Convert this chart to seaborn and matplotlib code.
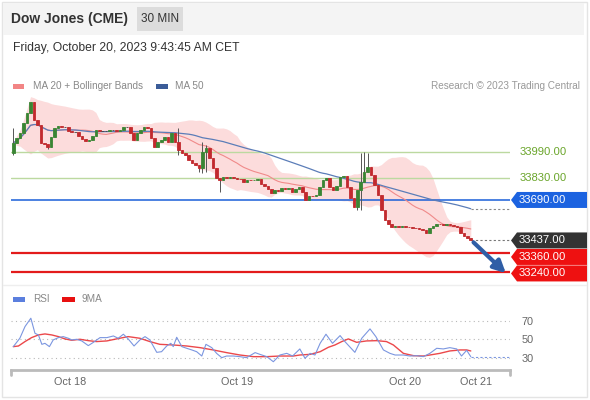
import numpy as np
import pandas as pd
import matplotlib
matplotlib.use("Agg")
import matplotlib.pyplot as plt
from matplotlib.patches import Rectangle, Polygon
from matplotlib.lines import Line2D
import seaborn as sns

# Dow Jones (CME) futures, 30 minute bars, Oct 17 - Oct 20 2023
first_open = 33984
closes = [
    34046, 34077, 34109, 34171, 34234, 34302, 34190, 34159, 34046, 34040,
    34021, 34084, 34140, 34152, 34146, 34146, 34121, 34115, 34115, 34090,
    34071, 34059, 34065, 34090, 34127, 34121, 34121, 34121, 34127, 34127,
    34121, 34127, 34146, 34146, 34109, 34065, 34109, 34127, 34146, 34140,
    34077, 34021, 34052, 34065, 34084, 34052, 34109, 34052, 34002, 33984,
    33971, 33940, 33921, 33909, 33890, 33990, 34015, 33952, 33890, 33827,
    33815, 33834, 33827, 33834, 33827, 33824, 33821, 33802, 33815, 33812,
    33815, 33821, 33790, 33777, 33759, 33734, 33752, 33749, 33765, 33759,
    33762, 33740, 33759, 33771, 33740, 33690, 33715, 33712, 33721, 33771,
    33815, 33827, 33771, 33752, 33777, 33834, 33840, 33771, 33702, 33646,
    33752, 33802, 33865, 33896, 33846, 33784, 33721, 33627, 33565, 33540,
    33521, 33527, 33521, 33527, 33521, 33518, 33515, 33512, 33509, 33502,
    33484, 33515, 33527, 33540, 33537, 33534, 33540, 33534, 33527, 33521,
    33484, 33465, 33452, 33437,
]
# bars with visible shadows
wick_idx = [0, 10, 48, 54, 55, 56, 60, 100, 101, 102, 103]
wick_high = [34140, 34040, 34140, 33909, 34052, 34034, 33827, 33752, 33984, 33990, 33984]
wick_low = [33971, 34009, 33971, 33865, 33859, 33865, 33740, 33627, 33627, 33802, 33865]

res_levels = [33990, 33830]
pivot_level = 33690
sup_levels = [33360, 33240]

rsi_idx = [0, 1.9, 3.4, 5.1, 6.3, 7.3, 8.3, 9.2, 10.5, 11.6,
           13.1, 14.5, 16.0, 17.0, 18.4, 19.9, 21.8, 23.3, 25.2, 27.2,
           29.1, 30.5, 32.0, 33.4, 35.1, 36.8, 38.3, 39.7, 41.7, 43.1,
           44.6, 45.8, 46.5, 47.5, 49.0, 50.4, 51.9, 53.3, 54.8, 56.0,
           57.7, 59.1, 60.6, 62.0, 64.0, 65.9, 67.8, 70.3, 71.7, 73.7,
           75.6, 77.5, 79.5, 81.2, 83.3, 84.8, 86.3, 87.7, 89.2, 90.9,
           92.8, 95.0, 96.4, 99.3, 101.3, 103.7, 105.4, 107.6, 109.5, 111.0,
           113.4, 115.3, 117.3, 119.2, 121.1, 123.1, 125.0, 126.9, 128.9, 130.3,
           131.8, 133.0]
rsi_val = [42.0, 51.1, 63.8, 72.9, 56.5, 54.7, 44.5, 45.6, 42.0, 49.3,
           51.8, 52.9, 51.1, 49.3, 50.0, 48.2, 43.1, 46.7, 51.8, 51.8,
           53.6, 51.1, 55.5, 50.4, 42.7, 49.3, 52.9, 49.3, 35.8, 36.5,
           42.7, 45.6, 42.0, 52.2, 42.0, 40.2, 38.4, 36.5, 31.8, 44.5,
           40.9, 34.7, 30.0, 31.8, 31.8, 31.1, 30.0, 35.5, 33.6, 31.1,
           25.6, 32.9, 34.7, 31.8, 39.5, 29.3, 34.7, 32.9, 45.6, 55.5,
           45.6, 54.0, 47.5, 35.8, 51.1, 61.3, 52.9, 38.4, 34.7, 32.9,
           32.9, 31.8, 32.2, 31.1, 34.7, 40.2, 39.5, 40.9, 39.5, 31.8,
           38.0, 31.1]
ma9_idx = [0, 1.5, 3.4, 5.3, 7.3, 9.2, 11.2, 13.1, 15.0, 17.0,
           19.4, 21.8, 24.2, 27.2, 30.0, 33.4, 36.8, 39.7, 42.6, 46.5,
           50.4, 54.3, 58.1, 62.0, 65.9, 69.8, 73.7, 77.5, 81.4, 83.3,
           86.3, 89.2, 91.6, 93.5, 95.5, 97.4, 99.8, 102.7, 105.6, 108.5,
           110.5, 113.4, 116.3, 119.2, 121.1, 124.0, 126.9, 129.9, 131.8, 133.0]
ma9_val = [42.0, 42.7, 47.5, 51.8, 54.7, 55.8, 54.7, 52.9, 50.4, 48.9,
           50.0, 48.5, 47.5, 48.2, 50.4, 52.9, 51.1, 47.5, 44.5, 43.8,
           42.7, 40.9, 38.4, 35.5, 32.9, 31.1, 31.1, 31.8, 31.8, 32.9,
           33.6, 36.5, 41.3, 43.8, 47.5, 50.4, 46.7, 48.2, 48.5, 47.5,
           43.8, 34.7, 32.2, 31.8, 32.9, 34.7, 37.3, 38.4, 38.4, 37.3]
rsi_levels = [70, 50, 30]

day_ticks = [16.5, 65, 114, 134.5]
day_labels = ["Oct 18", "Oct 19", "Oct 20", "Oct 21"]

GREEN = "#3a8534"
RED = "#c22a2e"

sns.set_theme(style="white")
plt.rcParams["font.family"] = ["Liberation Sans", "DejaVu Sans"]

W, H = 590, 400
fig = plt.figure(figsize=(W / 100, H / 100), dpi=100)
fig.patch.set_facecolor("white")


def fx(x):
    return x / W


def fy(y):
    return 1 - y / H


def frect(x0, y0, x1, y1, **kw):
    fig.add_artist(Rectangle((fx(x0), fy(y1)), fx(x1) - fx(x0), fy(y0) - fy(y1),
                             transform=fig.transFigure, **kw))


# frame and header
frect(2, 2, 587, 397, facecolor="none", edgecolor="#e4e4e4", lw=1)
frect(3, 3, 584, 35, facecolor="#f4f4f4", edgecolor="none")
frect(137, 7, 183, 31, facecolor="#dcdcdc", edgecolor="none")
fig.text(fx(11), fy(19), "Dow Jones (CME)", fontsize=10, fontweight="bold",
         color="#333333", va="center")
fig.text(fx(160), fy(19), "30 MIN", fontsize=8.5, color="#333333",
         va="center", ha="center")
fig.text(fx(13), fy(48), "Friday, October 20, 2023 9:43:45 AM CET",
         fontsize=8.7, color="#333333", va="center")

# legends
frect(13, 84, 24, 89, facecolor="#f28585", edgecolor="none")
fig.text(fx(33), fy(86), "MA 20 + Bollinger Bands", fontsize=7.2,
         color="#888888", va="center")
frect(156, 84, 168, 89, facecolor="#3b5c98", edgecolor="none")
fig.text(fx(175), fy(86), "MA 50", fontsize=7.2, color="#888888", va="center")
fig.text(fx(580), fy(86), "Research \u00a9 2023 Trading Central", fontsize=7.2,
         color="#999999", va="center", ha="right")
frect(13, 297, 25, 302, facecolor="#5b7fde", edgecolor="none")
fig.text(fx(33), fy(299), "RSI", fontsize=7.2, color="#888888", va="center")
frect(62, 297, 75, 302, facecolor="#e81010", edgecolor="none")
fig.text(fx(82), fy(299), "9MA", fontsize=7.2, color="#888888", va="center")
fig.add_artist(Line2D([fx(3), fx(586)], [fy(285), fy(285)],
                      transform=fig.transFigure, color="#eeeeee", lw=1))

# main price panel
ax = fig.add_axes([fx(11), fy(283), fx(510) - fx(11), fy(95) - fy(283)])
ax_rsi = fig.add_axes([fx(11), fy(370), fx(510) - fx(11), fy(308) - fy(370)])
xmin, xmax = -0.67, 144.4
ymin, ymax = 33171, 34346

c = np.array(closes, dtype=float)
n = len(c)
idx = np.arange(n)
o = np.r_[first_open, c[:-1]]
hi = np.maximum(o, c)
lo = np.minimum(o, c)
hi[wick_idx] = wick_high
lo[wick_idx] = wick_low

s = pd.Series(c)
ma20 = s.rolling(20, min_periods=1).mean()
sd20 = s.rolling(20, min_periods=1).std(ddof=0)
ma50 = s.rolling(50, min_periods=1).mean()

ax.fill_between(idx, ma20 - 2 * sd20, ma20 + 2 * sd20, color="#fcdcdc",
                lw=0, zorder=1)
for lv in res_levels:
    ax.axhline(lv, color="#bcd9a0", lw=1.0, zorder=2)
ax.axhline(pivot_level, color="#1a5fd8", lw=1.1, zorder=2)
for lv in sup_levels:
    ax.axhline(lv, color="#e31b1b", lw=1.6, zorder=2)

sns.lineplot(x=idx, y=ma20.values, ax=ax, color="#f08a8a", lw=0.8, zorder=3)
sns.lineplot(x=idx, y=ma50.values, ax=ax, color="#5b7db8", lw=0.9, zorder=3)

body_col = np.where(c > o, GREEN, np.where(c < o, RED, "#444444"))
ax.vlines(idx, lo, hi, color="#555555", lw=0.7, zorder=4)
ax.bar(idx, np.abs(c - o), bottom=np.minimum(o, c), width=0.75,
       color=body_col, edgecolor=body_col, linewidth=0.6, zorder=5)

ax.plot([n - 1, xmax], [c[-1], c[-1]], ls=(0, (2, 2)), color="#777777",
        lw=0.8, zorder=3)
ax.plot([n - 1, xmax], [ma50.values[-1]] * 2, ls=(0, (2, 2)), color="#888888",
        lw=0.8, zorder=3)
ax.annotate("", xy=(n - 1 + 10.2, sup_levels[-1] - 8), xytext=(n - 1 + 0.8, c[-1] - 12),
            arrowprops=dict(arrowstyle="-|>", color="#2f5ea6", lw=3,
                            mutation_scale=18, shrinkA=0, shrinkB=0),
            annotation_clip=False, zorder=6)

ax.set_xlim(xmin, xmax)
ax.set_ylim(ymin, ymax)
ax.set_axis_off()

# price labels at the right edge
to_fig = fig.transFigure.inverted()


def price_px(p):
    return (1 - to_fig.transform(ax.transData.transform((0, p)))[1]) * H


for lv in res_levels:
    fig.text(fx(520), fy(price_px(lv)), f"{lv:.2f}", fontsize=8.1,
             color="#6aa52a", va="center")

boxes = [(pivot_level, "#1c63e0"), (c[-1], "#333333"),
         (sup_levels[0], "#ee1111"), (sup_levels[1], "#ee1111")]
prev = None
for p, col in boxes:
    yc = price_px(p)
    if prev is not None and yc - prev < 16.5:
        yc = prev + 16.5
    prev = yc
    pts = [(511, yc), (517, yc - 8), (587, yc - 8), (587, yc + 8), (517, yc + 8)]
    fig.add_artist(Polygon([(fx(a), fy(b)) for a, b in pts], closed=True,
                           transform=fig.transFigure, facecolor=col,
                           edgecolor="none"))
    fig.text(fx(519), fy(yc), f"{p:.2f}", fontsize=8.1, color="white",
             va="center")

# RSI panel
for lv in rsi_levels:
    ax_rsi.axhline(lv, color="#b8b8b8", lw=0.8, ls=(0, (1, 3)), zorder=1)
sns.lineplot(x=rsi_idx, y=rsi_val, ax=ax_rsi, color="#7b96e0", lw=0.8, zorder=3)
sns.lineplot(x=ma9_idx, y=ma9_val, ax=ax_rsi, color="#e8282b", lw=1.0,
             alpha=0.85, zorder=2)
ax_rsi.plot([rsi_idx[-1], xmax], [rsi_val[-1]] * 2, color="#7b96e0",
            lw=0.8, ls=(0, (2, 2)))
ax_rsi.set_xlim(xmin, xmax)
ax_rsi.set_ylim(16.6, 84)
for side in ["top", "left", "right"]:
    ax_rsi.spines[side].set_visible(False)
ax_rsi.spines["bottom"].set_color("#bbbbbb")
ax_rsi.spines["bottom"].set_linewidth(2)
ax_rsi.set_facecolor("none")
ax_rsi.set_xticks(day_ticks, day_labels)
ax_rsi.yaxis.tick_right()
ax_rsi.set_yticks(rsi_levels, [str(v) for v in rsi_levels])
ax_rsi.tick_params(axis="x", length=0, pad=5, labelsize=7.8, labelcolor="#666666")
ax_rsi.tick_params(axis="y", length=0, pad=8, labelsize=7.8, labelcolor="#666666")
ax_rsi.set_xlabel("")
ax_rsi.set_ylabel("")
for xe in [11, 510]:
    fig.add_artist(Line2D([fx(xe), fx(xe)], [fy(370), fy(375)],
                          transform=fig.transFigure, color="#bbbbbb", lw=2))

fig.savefig("out.png", dpi=100)
